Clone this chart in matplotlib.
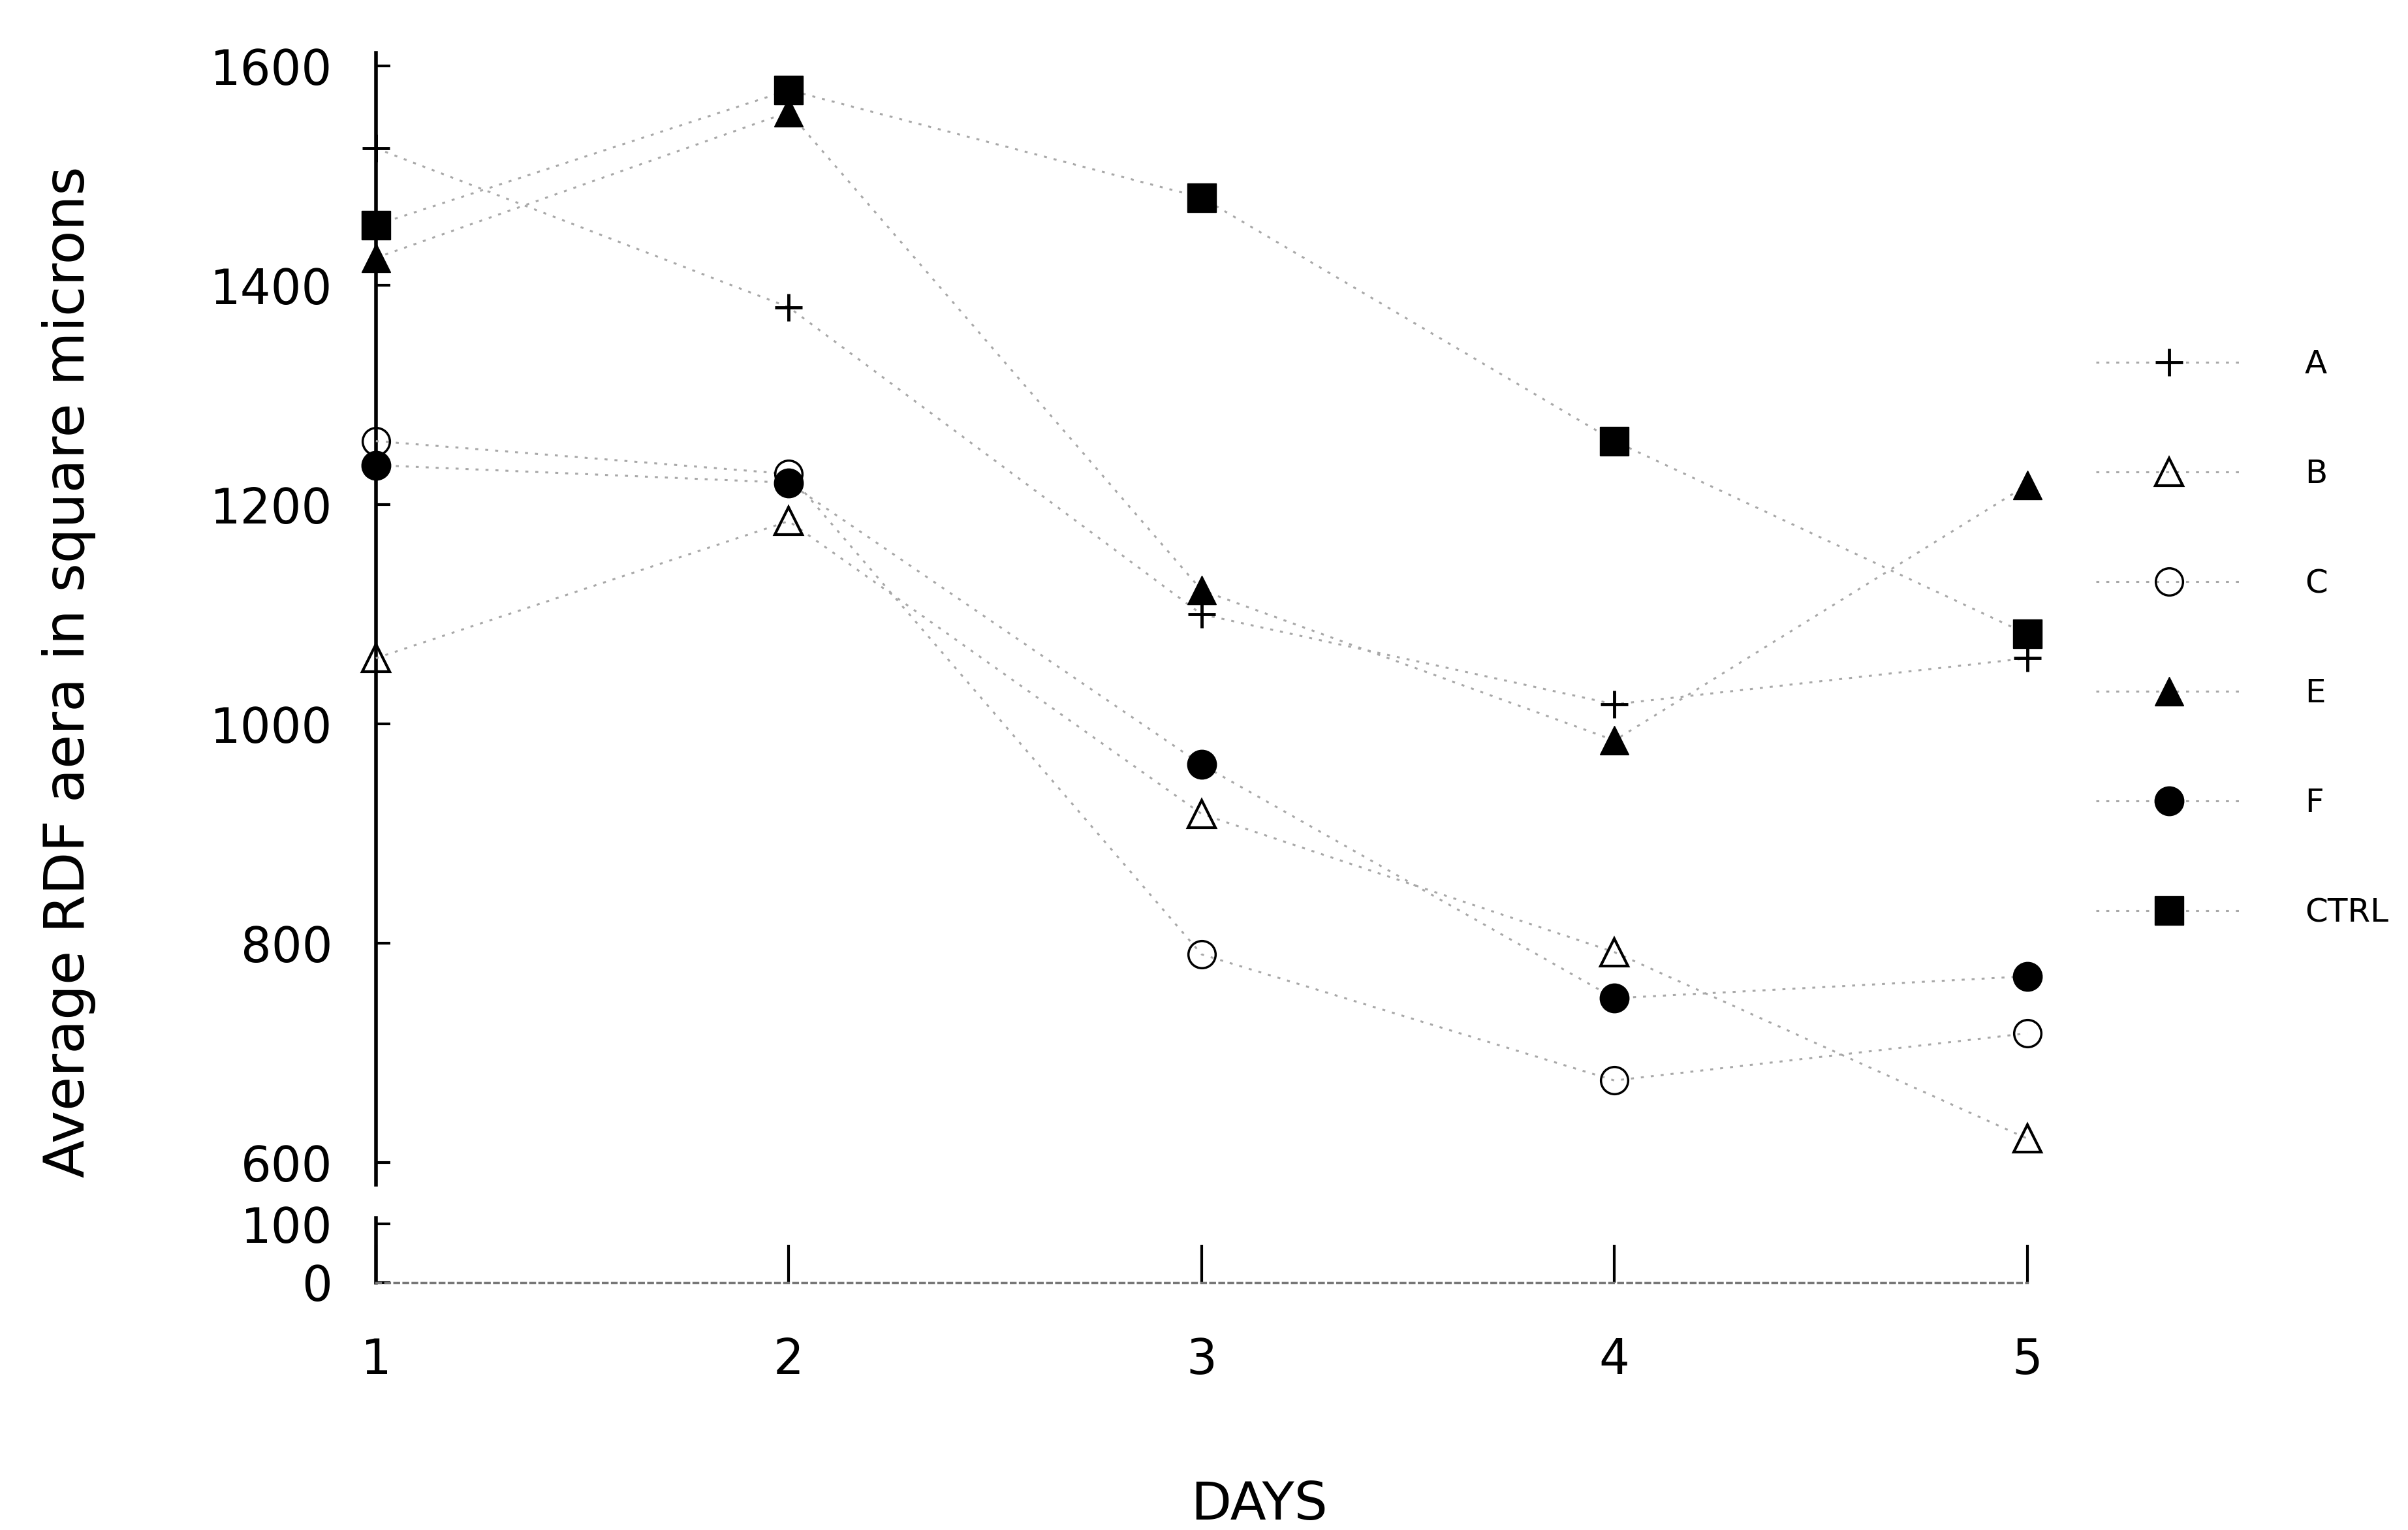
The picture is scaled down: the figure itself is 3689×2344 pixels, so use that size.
import matplotlib.pyplot as plt
import numpy as np

days = [1, 2, 3, 4, 5]
a_vals = [1525, 1380, 1100, 1018, 1060]
b_vals = [1060, 1185, 918, 792, 622]
c_vals = [1258, 1228, 790, 675, 718]
e_vals = [1425, 1558, 1122, 985, 1218]
f_vals = [1236, 1220, 963, 750, 770]
ctrl_vals = [1455, 1578, 1480, 1258, 1082]
labels = ['A', 'B', 'C', 'E', 'F', 'CTRL']
upper_ticks = [600, 800, 1000, 1200, 1400, 1600]
lower_ticks = [0, 100]

plt.rcParams['font.family'] = ['DejaVu Sans']

fig = plt.figure(figsize=(36.89, 23.44), dpi=100)
ax = fig.add_axes([0.1561, 0.2257, 0.6858, 0.7398])
ax2 = fig.add_axes([0.1561, 0.1619, 0.6858, 0.042])

line_kw = dict(color='#a8a8a8', lw=2.2, ls=(0, (1.5, 3.5)))
styles = [
    dict(marker='+', ms=30, mew=3.5, mfc='black', mec='black'),
    dict(marker='^', ms=30, mew=3, mfc='none', mec='black'),
    dict(marker='o', ms=30, mew=2.5, mfc='none', mec='black'),
    dict(marker='^', ms=32, mew=1, mfc='black', mec='black'),
    dict(marker='o', ms=32, mew=1, mfc='black', mec='black'),
    dict(marker='s', ms=32, mew=1, mfc='black', mec='black'),
]
all_vals = [a_vals, b_vals, c_vals, e_vals, f_vals, ctrl_vals]
for vals, st, lab in zip(all_vals, styles, labels):
    ax.plot(days, vals, label=lab, clip_on=False, zorder=3, **line_kw, **st)

# upper panel
ax.set_xlim(1, 5)
ax.set_ylim(580, 1612)
ax.set_yticks(upper_ticks)
for s in ['top', 'right', 'bottom']:
    ax.spines[s].set_visible(False)
ax.spines['left'].set_linewidth(4)
ax.set_xticks([])
ax.tick_params(axis='y', direction='in', length=16, width=3, pad=48, labelsize=53)

# lower panel (broken axis)
ax2.set_xlim(1, 5)
ax2.set_ylim(0, 110)
ax2.set_yticks(lower_ticks)
ax2.set_xticks(days)
for s in ['top', 'right']:
    ax2.spines[s].set_visible(False)
ax2.spines['left'].set_linewidth(4)
ax2.spines['bottom'].set_color('#777777')
ax2.spines['bottom'].set_linewidth(2.5)
ax2.spines['bottom'].set_linestyle((0, (2, 2)))
ax2.tick_params(axis='y', direction='in', length=16, width=3, pad=48, labelsize=53)
ax2.tick_params(axis='x', direction='in', length=42, width=3, pad=60, labelsize=53)

fig.text(0.0287, 0.561, 'Average RDF aera in square microns', rotation=90,
         ha='center', va='center', fontsize=61)
fig.text(0.523, 0.0163, 'DAYS', ha='center', va='center', fontsize=58)

fig.legend(loc='center left', bbox_to_anchor=(0.8704, 0.5826), frameon=False,
           fontsize=36, handlelength=4.5, handletextpad=1.9, labelspacing=2.4,
           borderpad=0, borderaxespad=0, numpoints=1)

fig.savefig('out.png', dpi=100)
